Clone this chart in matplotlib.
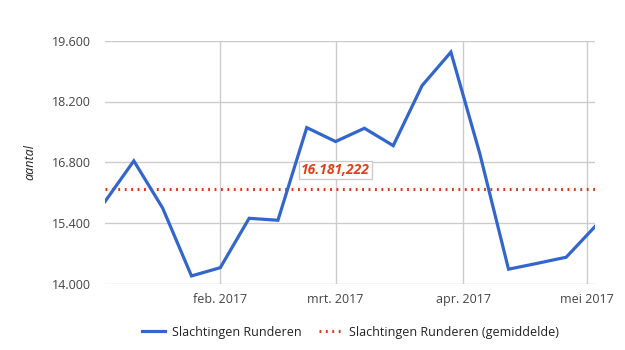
import matplotlib.pyplot as plt
import matplotlib.dates as mdates
import numpy as np
import pandas as pd

# Data (weekly values)
weeks = pd.date_range('2017-01-04', '2017-05-03', freq='7D')
slachtingen = [15900, 16835, 15750, 14190, 14380, 15515, 15470, 17600, 17280,
               17585, 17185, 18565, 19335, 17010, 14345, 14480, 14620, 15325]
gemiddelde = 16181.222
gemiddelde_label = '16.181,222'

yticks = [14000, 15400, 16800, 18200, 19600]
ytick_labels = ['14.000', '15.400', '16.800', '18.200', '19.600']
xticks = pd.to_datetime(['2017-02-01', '2017-03-01', '2017-04-01', '2017-05-01'])
xtick_labels = ['feb. 2017', 'mrt. 2017', 'apr. 2017', 'mei 2017']

blauw = '#3366cc'
rood = '#dc3912'
grijs = '#444444'

plt.rcParams['font.family'] = ['Open Sans', 'DejaVu Sans']

fig = plt.figure(figsize=(6.25, 3.5), dpi=100)
ax = fig.add_axes([0.168, 0.188, 0.784, 0.696])

ax.plot(weeks, slachtingen, color=blauw, linewidth=2.3, solid_joinstyle='miter',
        label='Slachtingen Runderen', zorder=3)
ax.plot([weeks[0], weeks[-1]], [gemiddelde, gemiddelde], color=rood, linewidth=2.2,
        linestyle=(0, (0.6, 1.5)), label='Slachtingen Runderen (gemiddelde)', zorder=2)

ax.set_xlim(weeks[0], weeks[-1])
ax.set_ylim(14000, 19600)
ax.set_yticks(yticks)
ax.set_yticklabels(ytick_labels)
ax.set_xticks(xticks)
ax.set_xticklabels(xtick_labels)

ax.grid(True, color='#cccccc', linewidth=1)
ax.set_axisbelow(True)
for s in ax.spines.values():
    s.set_visible(False)
ax.tick_params(length=0, labelsize=9, colors=grijs, pad=10)
ax.tick_params(axis='x', pad=6)

ax.set_ylabel('aantal', fontsize=9, style='italic', color='#222222')
ax.yaxis.set_label_coords(-0.14, 0.5)

# label of the mean line
ax.text(pd.Timestamp('2017-03-01'), gemiddelde + 440, gemiddelde_label,
        color='#e0401a', fontsize=10, fontweight='bold', style='italic',
        ha='center', va='center', zorder=4,
        bbox=dict(facecolor='white', edgecolor='#cccccc', boxstyle='square,pad=0.15'))

fig.legend(loc='lower center', bbox_to_anchor=(0.56, 0.0), ncol=2, frameon=False,
           fontsize=9, handlelength=1.9, handletextpad=0.5, columnspacing=1.4,
           labelcolor='#222222')

fig.savefig('out.png', dpi=100)
